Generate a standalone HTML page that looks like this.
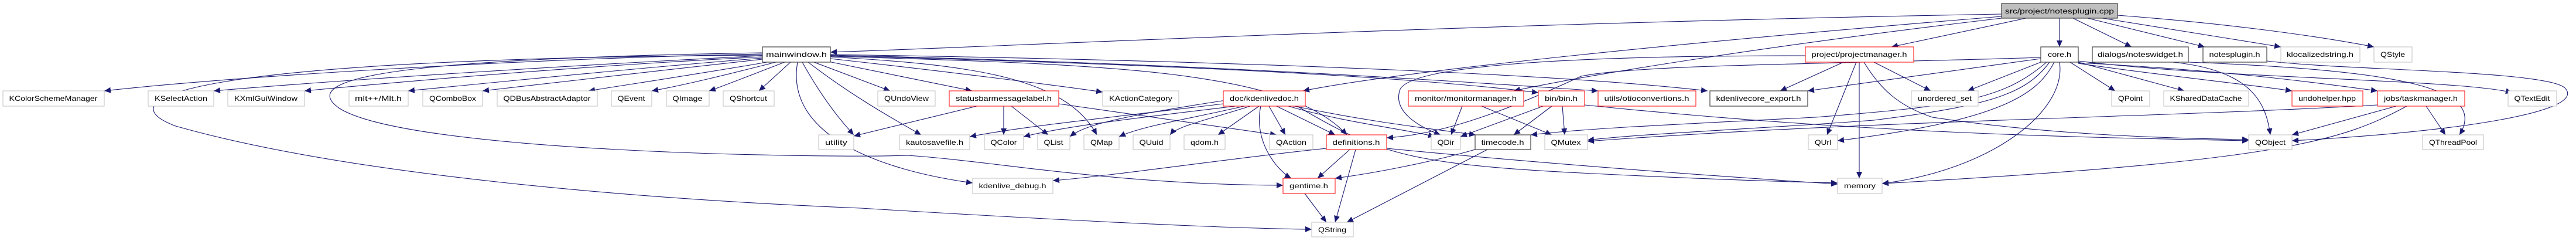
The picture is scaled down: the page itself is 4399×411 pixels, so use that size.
<!DOCTYPE html>
<html><head><meta charset="utf-8"><style>
html,body{margin:0;padding:0;background:#fff;}
svg{display:block;}
text{font-family:"Liberation Sans",sans-serif;font-size:12px;fill:#000;}
.e{fill:none;stroke:#191970;stroke-width:1.1;}
.g{fill:#fff;stroke:#bfbfbf;stroke-width:1;}
.r{fill:#fff;stroke:#ff0000;stroke-width:1;}
.k{fill:#fff;stroke:#404040;stroke-width:1.2;}
.s{fill:#bfbfbf;stroke:#404040;stroke-width:1.2;}
</style></head><body>
<svg width="4399" height="411" viewBox="0 0 4399 411" xmlns="http://www.w3.org/2000/svg">
<defs><marker id="a" markerUnits="userSpaceOnUse" markerWidth="12" markerHeight="10" refX="11" refY="5" orient="auto"><path d="M0,0 L11,5 L0,10 z" fill="#191970"/></marker></defs>
<g marker-end="url(#a)">
<!-- src edges -->
<path class="e" d="M3418,24 C2500,40 1700,80 1418,89"/>
<path class="e" d="M3460,31 L3230,80"/>
<path class="e" d="M3517,31 L3517,80"/>
<path class="e" d="M3540,31 L3640,80"/>
<path class="e" d="M3565,31 L3765,80"/>
<path class="e" d="M3590,31 L3895,80"/>
<path class="e" d="M3616,26 C3800,40 3950,60 4054,80"/>
<path class="e" d="M3418,28 C2900,70 2400,120 2225,155"/>
<path class="e" d="M3418,31 C3000,80 2700,130 2585,155"/>
<!-- mainwindow edges -->
<path class="e" d="M1302,92 C900,100 400,130 178,155"/>
<path class="e" d="M1302,95 C1000,110 600,135 365,155"/>
<path class="e" d="M1302,97 C1000,112 700,138 520,155"/>
<path class="e" d="M1302,99 C1100,115 850,140 697,155"/>
<path class="e" d="M1302,101 C1150,118 950,140 824,155"/>
<path class="e" d="M1310,106 C1200,125 1080,143 1005,155"/>
<path class="e" d="M1325,106 C1250,125 1170,145 1113,155"/>
<path class="e" d="M1340,106 C1290,125 1240,145 1211,155"/>
<path class="e" d="M1350,106 L1296,155"/>
<path class="e" d="M1370,106 C1400,160 1430,200 1458,230"/>
<path class="e" d="M1390,106 L1520,155"/>
<path class="e" d="M1410,104 L1660,155"/>
<path class="e" d="M1418,100 C1600,120 1800,145 1883,157"/>
<path class="e" d="M1380,106 C1450,160 1520,200 1573,230"/>
<path class="e" d="M1418,97 C1650,110 1820,130 1873,230"/>
<path class="e" d="M1362,106 C1340,230 1500,290 1661,312"/>
<path class="e" d="M1302,90 C700,100 500,130 580,185 C700,260 1400,270 1550,265 C1700,275 1900,315 2191,316"/>
<path class="e" d="M1302,94 C300,100 180,170 300,215 C600,300 1100,340 1470,355 C1800,375 2100,390 2240,391"/>
<path class="e" d="M1418,96 C1900,110 2200,120 2300,230"/>
<path class="e" d="M1418,95 C2000,110 2400,130 2627,158"/>
<path class="e" d="M1418,94 C2100,110 2500,140 2729,155"/>
<path class="e" d="M1418,93 C2200,105 2700,130 2916,155"/>
<!-- statusbar -->
<path class="e" d="M1668,181 L1458,232"/>
<path class="e" d="M1714,181 L1714,230"/>
<path class="e" d="M1727,181 L1790,230"/>
<path class="e" d="M1808,177 L2180,230"/>
<!-- kdenlivedoc -->
<path class="e" d="M2089,177 C1900,200 1750,215 1656,233"/>
<path class="e" d="M2110,181 C1950,200 1820,215 1748,233"/>
<path class="e" d="M2100,170 C1900,200 1850,215 1827,233"/>
<path class="e" d="M2125,181 C2020,205 1950,215 1911,233"/>
<path class="e" d="M2135,181 C2060,205 2010,215 1998,230"/>
<path class="e" d="M2150,181 L2080,230"/>
<path class="e" d="M2167,181 L2195,230"/>
<path class="e" d="M2180,181 L2280,230"/>
<path class="e" d="M2153,181 C2140,240 2180,290 2205,304"/>
<path class="e" d="M2200,181 C2300,210 2400,220 2450,233"/>
<path class="e" d="M2210,181 C2350,210 2450,220 2520,230"/>
<path class="e" d="M2215,181 C2350,260 2400,280 2700,295 C2900,305 3050,310 3138,312"/>
<!-- definitions, gentime, timecode -->
<path class="e" d="M2265,253 C2100,270 1900,300 1798,308"/>
<path class="e" d="M2305,255 L2250,304"/>
<path class="e" d="M2315,255 L2280,379"/>
<path class="e" d="M2368,253 C2700,285 3000,305 3138,314"/>
<path class="e" d="M2228,330 L2265,379"/>
<path class="e" d="M2519,255 C2450,275 2350,295 2280,304"/>
<path class="e" d="M2540,255 L2300,379"/>
<!-- monitor, bin -->
<path class="e" d="M2497,181 L2478,230"/>
<path class="e" d="M2530,181 L2650,230"/>
<path class="e" d="M2635,181 L2494,233"/>
<path class="e" d="M2650,181 L2585,230"/>
<path class="e" d="M2668,181 L2672,230"/>
<path class="e" d="M2706,179 C3200,230 3600,235 3840,240"/>
<!-- projectmanager -->
<path class="e" d="M3148,106 L3040,155"/>
<path class="e" d="M3170,106 L3120,230"/>
<path class="e" d="M3175,106 L3175,304"/>
<path class="e" d="M3200,106 L3297,155"/>
<path class="e" d="M3083,95 C2700,95 2400,110 2390,155 C2380,190 2420,215 2460,230"/>
<path class="e" d="M3183,106 C3210,150 3240,180 3300,200 C3500,230 3700,236 3840,238"/>
<!-- core -->
<path class="e" d="M3485,100 L3087,155"/>
<path class="e" d="M3485,106 L3360,155"/>
<path class="e" d="M3535,106 L3612,155"/>
<path class="e" d="M3549,106 L3730,155"/>
<path class="e" d="M3549,108 C3700,130 3850,145 3914,155"/>
<path class="e" d="M3549,107 C3800,120 3950,140 4060,155"/>
<path class="e" d="M3549,104 C3800,135 4200,135 4290,158"/>
<path class="e" d="M3508,106 C3480,160 3420,205 3138,240"/>
<path class="e" d="M3517,106 C3530,190 3400,290 3214,313"/>
<path class="e" d="M3500,106 C3460,160 3400,180 3200,205 C3000,220 2800,228 2711,239"/>
<path class="e" d="M3495,106 C3420,170 3350,180 3100,200 C2800,215 2700,220 2614,230"/>
<path class="e" d="M3485,98 C3100,110 2800,110 2700,130 C2550,200 2450,230 2368,235"/>
<!-- taskmanager, widgets -->
<path class="e" d="M4092,181 L3914,230"/>
<path class="e" d="M4143,181 L4176,230"/>
<path class="e" d="M4110,181 C4000,240 3900,275 3214,313"/>
<path class="e" d="M4060,179 C3700,200 3200,205 2711,241"/>
<path class="e" d="M3710,106 C3850,120 3870,180 3877,230"/>
<path class="e" d="M3737,106 C4100,120 4250,150 4200,230"/>
<path class="e" d="M3871,104 C4000,120 4350,120 4380,150 C4420,190 4200,225 3914,240"/>
</g>
<!-- nodes -->
<rect class="s" x="3418" y="6" width="198" height="25"/><text x="3517" y="23" text-anchor="middle" textLength="186" lengthAdjust="spacingAndGlyphs">src/project/notesplugin.cpp</text>
<rect class="k" x="1302" y="80" width="116" height="26"/><text x="1360" y="97" text-anchor="middle" textLength="104" lengthAdjust="spacingAndGlyphs">mainwindow.h</text>
<rect class="r" x="3083" y="80" width="185" height="26"/><text x="3175" y="97" text-anchor="middle" textLength="163" lengthAdjust="spacingAndGlyphs">project/projectmanager.h</text>
<rect class="k" x="3485" y="80" width="64" height="26"/><text x="3517" y="97" text-anchor="middle" textLength="40" lengthAdjust="spacingAndGlyphs">core.h</text>
<rect class="k" x="3573" y="80" width="164" height="26"/><text x="3655" y="97" text-anchor="middle" textLength="146" lengthAdjust="spacingAndGlyphs">dialogs/noteswidget.h</text>
<rect class="k" x="3762" y="80" width="109" height="26"/><text x="3816" y="97" text-anchor="middle" textLength="87" lengthAdjust="spacingAndGlyphs">notesplugin.h</text>
<rect class="g" x="3895" y="80" width="135" height="26"/><text x="3962" y="97" text-anchor="middle" textLength="114" lengthAdjust="spacingAndGlyphs">klocalizedstring.h</text>
<rect class="g" x="4054" y="80" width="65" height="26"/><text x="4086" y="97" text-anchor="middle" textLength="42" lengthAdjust="spacingAndGlyphs">QStyle</text>

<rect class="g" x="5" y="155" width="173" height="26"/><text x="91" y="172" text-anchor="middle" textLength="151" lengthAdjust="spacingAndGlyphs">KColorSchemeManager</text>
<rect class="g" x="253" y="155" width="112" height="26"/><text x="309" y="172" text-anchor="middle" textLength="90" lengthAdjust="spacingAndGlyphs">KSelectAction</text>
<rect class="g" x="389" y="155" width="131" height="26"/><text x="454" y="172" text-anchor="middle" textLength="108" lengthAdjust="spacingAndGlyphs">KXmlGuiWindow</text>
<rect class="g" x="596" y="155" width="101" height="26"/><text x="646" y="172" text-anchor="middle" textLength="80" lengthAdjust="spacingAndGlyphs">mlt++/Mlt.h</text>
<rect class="g" x="722" y="155" width="102" height="26"/><text x="773" y="172" text-anchor="middle" textLength="80" lengthAdjust="spacingAndGlyphs">QComboBox</text>
<rect class="g" x="849" y="155" width="171" height="26"/><text x="934" y="172" text-anchor="middle" textLength="149" lengthAdjust="spacingAndGlyphs">QDBusAbstractAdaptor</text>
<rect class="g" x="1044" y="155" width="69" height="26"/><text x="1078" y="172" text-anchor="middle" textLength="47" lengthAdjust="spacingAndGlyphs">QEvent</text>
<rect class="g" x="1138" y="155" width="73" height="26"/><text x="1174" y="172" text-anchor="middle" textLength="51" lengthAdjust="spacingAndGlyphs">QImage</text>
<rect class="g" x="1235" y="155" width="87" height="26"/><text x="1278" y="172" text-anchor="middle" textLength="64" lengthAdjust="spacingAndGlyphs">QShortcut</text>
<rect class="g" x="1499" y="155" width="98" height="26"/><text x="1548" y="172" text-anchor="middle" textLength="76" lengthAdjust="spacingAndGlyphs">QUndoView</text>
<rect class="r" x="1621" y="155" width="187" height="26"/><text x="1714" y="172" text-anchor="middle" textLength="164" lengthAdjust="spacingAndGlyphs">statusbarmessagelabel.h</text>
<rect class="g" x="1883" y="155" width="130" height="26"/><text x="1948" y="172" text-anchor="middle" textLength="108" lengthAdjust="spacingAndGlyphs">KActionCategory</text>
<rect class="r" x="2089" y="155" width="140" height="26"/><text x="2159" y="172" text-anchor="middle" textLength="118" lengthAdjust="spacingAndGlyphs">doc/kdenlivedoc.h</text>
<rect class="r" x="2405" y="155" width="197" height="26"/><text x="2503" y="172" text-anchor="middle" textLength="174" lengthAdjust="spacingAndGlyphs">monitor/monitormanager.h</text>
<rect class="r" x="2627" y="155" width="79" height="26"/><text x="2666" y="172" text-anchor="middle" textLength="56" lengthAdjust="spacingAndGlyphs">bin/bin.h</text>
<rect class="r" x="2729" y="155" width="167" height="26"/><text x="2812" y="172" text-anchor="middle" textLength="145" lengthAdjust="spacingAndGlyphs">utils/otioconvertions.h</text>
<rect class="k" x="2920" y="155" width="167" height="26"/><text x="3003" y="172" text-anchor="middle" textLength="145" lengthAdjust="spacingAndGlyphs">kdenlivecore_export.h</text>
<rect class="g" x="3264" y="155" width="114" height="26"/><text x="3321" y="172" text-anchor="middle" textLength="92" lengthAdjust="spacingAndGlyphs">unordered_set</text>
<rect class="g" x="3606" y="155" width="65" height="26"/><text x="3638" y="172" text-anchor="middle" textLength="42" lengthAdjust="spacingAndGlyphs">QPoint</text>
<rect class="g" x="3695" y="155" width="145" height="26"/><text x="3767" y="172" text-anchor="middle" textLength="123" lengthAdjust="spacingAndGlyphs">KSharedDataCache</text>
<rect class="r" x="3914" y="155" width="121" height="26"/><text x="3974" y="172" text-anchor="middle" textLength="98" lengthAdjust="spacingAndGlyphs">undohelper.hpp</text>
<rect class="r" x="4060" y="155" width="149" height="26"/><text x="4134" y="172" text-anchor="middle" textLength="126" lengthAdjust="spacingAndGlyphs">jobs/taskmanager.h</text>
<rect class="g" x="4283" y="155" width="83" height="26"/><text x="4324" y="172" text-anchor="middle" textLength="61" lengthAdjust="spacingAndGlyphs">QTextEdit</text>

<rect class="g" x="1398" y="230" width="60" height="25"/><text x="1428" y="247" text-anchor="middle" textLength="38" lengthAdjust="spacingAndGlyphs">utility</text>
<rect class="g" x="1536" y="230" width="120" height="25"/><text x="1596" y="247" text-anchor="middle" textLength="98" lengthAdjust="spacingAndGlyphs">kautosavefile.h</text>
<rect class="g" x="1681" y="230" width="67" height="25"/><text x="1714" y="247" text-anchor="middle" textLength="45" lengthAdjust="spacingAndGlyphs">QColor</text>
<rect class="g" x="1772" y="230" width="55" height="25"/><text x="1799" y="247" text-anchor="middle" textLength="33" lengthAdjust="spacingAndGlyphs">QList</text>
<rect class="g" x="1851" y="230" width="60" height="25"/><text x="1881" y="247" text-anchor="middle" textLength="38" lengthAdjust="spacingAndGlyphs">QMap</text>
<rect class="g" x="1935" y="230" width="63" height="25"/><text x="1966" y="247" text-anchor="middle" textLength="41" lengthAdjust="spacingAndGlyphs">QUuid</text>
<rect class="g" x="2022" y="230" width="70" height="25"/><text x="2057" y="247" text-anchor="middle" textLength="48" lengthAdjust="spacingAndGlyphs">qdom.h</text>
<rect class="g" x="2168" y="230" width="74" height="25"/><text x="2205" y="247" text-anchor="middle" textLength="52" lengthAdjust="spacingAndGlyphs">QAction</text>
<rect class="r" x="2265" y="230" width="103" height="25"/><text x="2316" y="247" text-anchor="middle" textLength="81" lengthAdjust="spacingAndGlyphs">definitions.h</text>
<rect class="g" x="2444" y="230" width="50" height="25"/><text x="2469" y="247" text-anchor="middle" textLength="29" lengthAdjust="spacingAndGlyphs">QDir</text>
<rect class="k" x="2519" y="230" width="95" height="25"/><text x="2566" y="247" text-anchor="middle" textLength="73" lengthAdjust="spacingAndGlyphs">timecode.h</text>
<rect class="g" x="2638" y="230" width="73" height="25"/><text x="2674" y="247" text-anchor="middle" textLength="51" lengthAdjust="spacingAndGlyphs">QMutex</text>
<rect class="g" x="3088" y="230" width="50" height="25"/><text x="3113" y="247" text-anchor="middle" textLength="28" lengthAdjust="spacingAndGlyphs">QUrl</text>
<rect class="g" x="3840" y="230" width="74" height="25"/><text x="3877" y="247" text-anchor="middle" textLength="52" lengthAdjust="spacingAndGlyphs">QObject</text>
<rect class="g" x="4137" y="230" width="104" height="25"/><text x="4189" y="247" text-anchor="middle" textLength="82" lengthAdjust="spacingAndGlyphs">QThreadPool</text>

<rect class="g" x="1661" y="304" width="137" height="26"/><text x="1729" y="321" text-anchor="middle" textLength="115" lengthAdjust="spacingAndGlyphs">kdenlive_debug.h</text>
<rect class="r" x="2191" y="304" width="89" height="26"/><text x="2235" y="321" text-anchor="middle" textLength="66" lengthAdjust="spacingAndGlyphs">gentime.h</text>
<rect class="g" x="3138" y="304" width="76" height="26"/><text x="3176" y="321" text-anchor="middle" textLength="54" lengthAdjust="spacingAndGlyphs">memory</text>

<rect class="g" x="2240" y="379" width="71" height="25"/><text x="2275" y="396" text-anchor="middle" textLength="48" lengthAdjust="spacingAndGlyphs">QString</text>
</svg>
</body></html>
